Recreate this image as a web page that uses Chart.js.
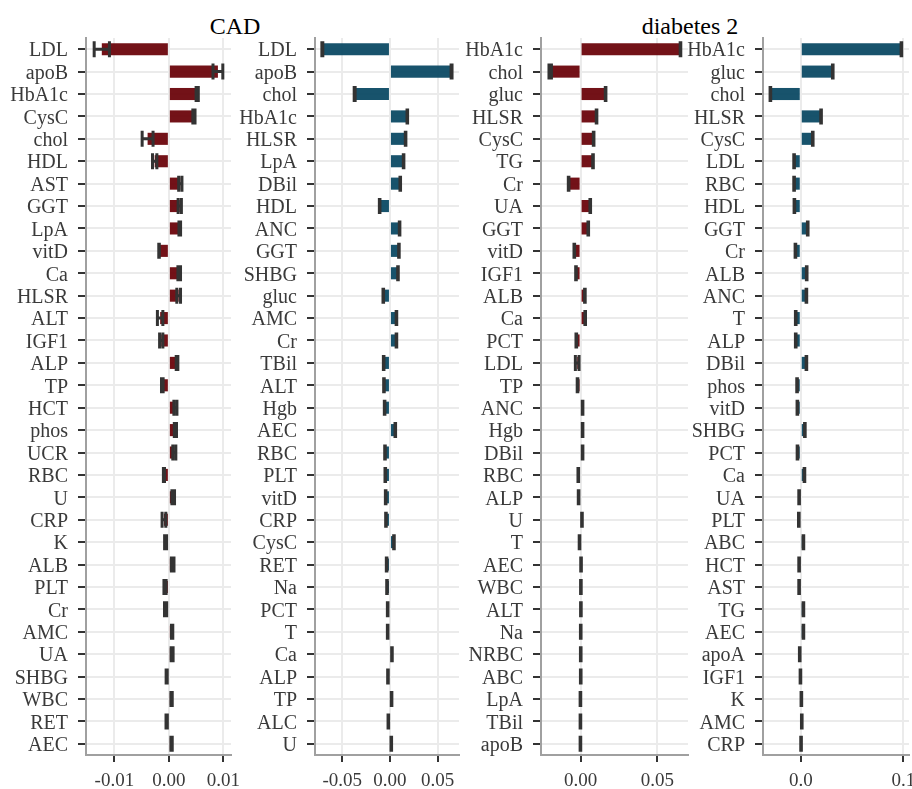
<!DOCTYPE html>
<html>
<head>
<meta charset="utf-8">
<script src="https://cdn.jsdelivr.net/npm/chart.js@4.4.0/dist/chart.umd.min.js"></script>
<style>
  html, body { margin: 0; padding: 0; background: #ffffff; overflow: hidden; }
  #wrap { position: relative; width: 912px; height: 789px; overflow: hidden; }
  #wrap canvas { position: absolute; top: 0; }
  .facet-title {
    position: absolute; top: 14px; line-height: 24px;
    font-family: "Liberation Serif", serif; font-size: 24px; color: #000;
    white-space: nowrap; transform: translateX(-50%);
  }
</style>
</head>
<body>
<div id="wrap">
  <div class="facet-title" style="left:235px">CAD</div>
  <div class="facet-title" style="left:690px">diabetes 2</div>
  <canvas id="p1"></canvas>
  <canvas id="p2"></canvas>
  <canvas id="p3"></canvas>
  <canvas id="p4"></canvas>
</div>
<script>
// ---- CAD, first model (red) ----
const cadA_labels = ['LDL','apoB','HbA1c','CysC','chol','HDL','AST','GGT','LpA','vitD','Ca','HLSR','ALT','IGF1','ALP','TP',
                     'HCT','phos','UCR','RBC','U','CRP','K','ALB','PLT','Cr','AMC','UA','SHBG','WBC','RET','AEC'];
const cadA_est = [-0.0123, 0.0090, 0.0052, 0.0046, -0.0039, -0.0026, 0.0021, 0.0020, 0.0020, -0.0018, 0.0019, 0.0018, -0.0016, -0.0014, 0.0015, -0.0012,
                  0.0012, 0.0012, 0.0010, -0.0009, 0.0008, -0.0009, -0.0006, 0.0007, -0.0007, -0.0006, 0.0006, 0.0006, -0.0004, 0.0005, -0.0004, 0.0005];
const cadA_ci = [0.0014, 0.0009, 0.0002, 0.0002, 0.0010, 0.0004, 0.0003, 0.0003, 0.00015, 0.00005, 0.00024, 0.00034, 0.0005, 0.0003, 0.00015, 0.00015,
                 0.00028, 0.0002, 0.00028, 0.0001, 0.00024, 0.00034, 0.00018, 0.00024, 0.0002, 0.0002, 0.00012, 0.00018, 0.0001, 0.00012, 0.00012, 0.00012];
const cadA_ticks = [-0.01, 0, 0.01];
const cadA_tickText = ['-0.01', '0.00', '0.01'];

// ---- CAD, second model (blue) ----
const cadB_labels = ['LDL','apoB','chol','HbA1c','HLSR','LpA','DBil','HDL','ANC','GGT','SHBG','gluc','AMC','Cr','TBil','ALT',
                     'Hgb','AEC','RBC','PLT','vitD','CRP','CysC','RET','Na','PCT','T','Ca','ALP','TP','ALC','U'];
const cadB_est = [-0.0709, 0.0646, -0.0370, 0.0182, 0.0164, 0.0143, 0.0108, -0.0108, 0.0101, 0.0094, 0.0084, -0.0070, 0.0068, 0.0068, -0.0066, -0.0063,
                  -0.0056, 0.0056, -0.0052, -0.0049, -0.0045, -0.0042, 0.0042, -0.0035, -0.0031, -0.0024, -0.0024, 0.0021, -0.0021, 0.0017, -0.0017, 0.0014];
const cadB_ci = [0.0005, 0.0005, 0.0005, 0.0003, 0.0003, 0.0003, 0.0003, 0.0003, 0.0003, 0.0003, 0.0003, 0.0003, 0.0003, 0.0003, 0.0003, 0.0003,
                 0.0003, 0.0003, 0.0003, 0.0003, 0.0003, 0.0003, 0.0003, 0.0003, 0.0003, 0.0003, 0.0003, 0.0003, 0.0003, 0.0003, 0.0003, 0.0003];
const cadB_ticks = [-0.05, 0, 0.05];
const cadB_tickText = ['-0.05', '0.00', '0.05'];

// ---- diabetes 2, first model (red) ----
const t2dA_labels = ['HbA1c','chol','gluc','HLSR','CysC','TG','Cr','UA','GGT','vitD','IGF1','ALB','Ca','PCT','LDL','TP',
                     'ANC','Hgb','DBil','RBC','ALP','U','T','AEC','WBC','ALT','Na','NRBC','ABC','LpA','TBil','apoB'];
const t2dA_est = [0.0651, -0.0198, 0.0163, 0.0104, 0.0085, 0.0081, -0.0078, 0.0063, 0.0050, -0.0041, -0.0030, 0.0028, 0.0030, -0.0028, -0.0022, -0.0020,
                  0.0013, 0.0013, 0.0013, -0.0015, -0.0013, 0.0009, -0.0007, 0.0003, 0.0002, 0.0002, 0.0001, 0.0001, 0.0001, -0.0001, -0.0001, -0.0001];
const t2dA_ci = [0.0002, 0.0008, 0.0002, 0.0002, 0.0002, 0.0002, 0.0002, 0.0002, 0.0002, 0.0002, 0.0002, 0.0002, 0.0002, 0.0002, 0.0012, 0.0002,
                 0.0002, 0.0002, 0.0002, 0.0002, 0.0002, 0.0002, 0.0002, 0.0002, 0.0002, 0.0002, 0.0002, 0.0002, 0.0002, 0.0002, 0.0002, 0.0002];
const t2dA_ticks = [0, 0.05];
const t2dA_tickText = ['0.00', '0.05'];

// ---- diabetes 2, second model (blue) ----
const t2dB_labels = ['HbA1c','gluc','chol','HLSR','CysC','LDL','RBC','HDL','GGT','Cr','ALB','ANC','T','ALP','DBil','phos',
                     'vitD','SHBG','PCT','Ca','UA','PLT','ABC','HCT','AST','TG','AEC','apoA','IGF1','K','AMC','CRP'];
const t2dB_est = [0.0981, 0.0312, -0.0296, 0.0198, 0.0117, -0.0065, -0.0065, -0.0062, 0.0068, -0.0052, 0.0058, 0.0055, -0.0049, -0.0049, 0.0055, -0.0036,
                  -0.0033, 0.0040, -0.0032, 0.0036, -0.0016, -0.0019, 0.0026, -0.0016, -0.0016, 0.0026, 0.0026, -0.0010, -0.0003, 0.0006, 0.0010, 0.0003];
const t2dB_ci = [0.0003, 0.0003, 0.0003, 0.0003, 0.0003, 0.0003, 0.0003, 0.0003, 0.0003, 0.0003, 0.0003, 0.0003, 0.0003, 0.0003, 0.0003, 0.0003,
                 0.0003, 0.0003, 0.0003, 0.0003, 0.0003, 0.0003, 0.0003, 0.0003, 0.0003, 0.0003, 0.0003, 0.0003, 0.0003, 0.0003, 0.0003, 0.0003];
const t2dB_ticks = [0, 0.1];
const t2dB_tickText = ['0.0', '0.1'];

// ---- drawing ----
const FONT = '"Liberation Serif", serif';
const TEXT = '#3a3a3a';
const GRID = '#ebebeb';
const AXIS = '#a0a0a0';
const RED = 'rgba(104, 0, 6, 0.93)';
const BLUE = 'rgba(4, 68, 96, 0.92)';

// Confidence-interval whiskers, drawn on top of the bars through the chart's scales.
const errorBars = {
  id: 'errorBars',
  afterDatasetsDraw(chart, args, opts) {
    if (!opts || !opts.half) return;
    const ctx = chart.ctx, xs = chart.scales.x, ys = chart.scales.y;
    const est = chart.data.datasets[0].data;
    const cap = opts.cap / 2;
    ctx.save();
    ctx.strokeStyle = opts.color;
    ctx.lineWidth = opts.width;
    ctx.lineCap = 'butt';
    est.forEach((v, i) => {
      const yc = ys.getPixelForValue(i);
      const xl = xs.getPixelForValue(v - opts.half[i]);
      const xr = xs.getPixelForValue(v + opts.half[i]);
      ctx.beginPath();
      ctx.moveTo(xl, yc); ctx.lineTo(xr, yc);
      ctx.moveTo(xl, yc - cap); ctx.lineTo(xl, yc + cap);
      ctx.moveTo(xr, yc - cap); ctx.lineTo(xr, yc + cap);
      ctx.stroke();
    });
    ctx.restore();
  }
};
Chart.register(errorBars);

const PAD_RIGHT = 26;
const PLOT_TOP = 38;
const XAXIS_H = 34;

function panel(id, canvasLeft, plotLeft, plotRight, xMin, xMax, labels, est, ci, ticks, tickText, color) {
  const cv = document.getElementById(id);
  cv.width = plotRight + PAD_RIGHT - canvasLeft;
  cv.height = 789;
  cv.style.left = canvasLeft + 'px';
  const yW = plotLeft - canvasLeft;
  return new Chart(cv, {
    type: 'bar',
    data: {
      labels: labels,
      datasets: [{
        data: est,
        backgroundColor: color,
        borderWidth: 0,
        categoryPercentage: 1,
        barPercentage: 0.54
      }]
    },
    options: {
      responsive: false,
      animation: false,
      indexAxis: 'y',
      layout: { padding: { top: PLOT_TOP, right: PAD_RIGHT, left: 0, bottom: 0 } },
      plugins: {
        legend: { display: false },
        tooltip: { enabled: false },
        errorBars: { half: ci, color: '#333333', width: 3, cap: 16 }
      },
      scales: {
        x: {
          type: 'linear', min: xMin, max: xMax, bounds: 'data',
          afterBuildTicks: s => { s.ticks = ticks.map(v => ({ value: v })); },
          afterFit: s => { s.height = XAXIS_H; },
          ticks: {
            callback: (v, i) => tickText[i],
            font: { family: FONT, size: 19 }, color: TEXT,
            padding: 8, maxRotation: 0, autoSkip: false
          },
          grid: { color: GRID, lineWidth: 2, tickColor: '#333333', tickWidth: 2, tickLength: 7 },
          border: { display: true, color: AXIS, width: 2 }
        },
        y: {
          type: 'category', offset: true,
          afterFit: s => { s.width = yW; },
          ticks: { font: { family: FONT, size: 20 }, color: TEXT, padding: 10, autoSkip: false, labelOffset: 2 },
          grid: { offset: false, color: GRID, lineWidth: 2, tickColor: '#333333', tickWidth: 2, tickLength: 8 },
          border: { display: true, color: AXIS, width: 2 }
        }
      }
    }
  });
}

panel('p1', 0,   86,  231, -0.0152, 0.0114, cadA_labels, cadA_est, cadA_ci, cadA_ticks, cadA_tickText, RED);
panel('p2', 235, 315, 459, -0.0786, 0.0724, cadB_labels, cadB_est, cadB_ci, cadB_ticks, cadB_tickText, BLUE);
panel('p3', 451, 541, 688, -0.0258, 0.0700, t2dA_labels, t2dA_est, t2dA_ci, t2dA_ticks, t2dA_tickText, RED);
panel('p4', 673, 763, 909, -0.0368, 0.1055, t2dB_labels, t2dB_est, t2dB_ci, t2dB_ticks, t2dB_tickText, BLUE);
</script>
</body>
</html>
